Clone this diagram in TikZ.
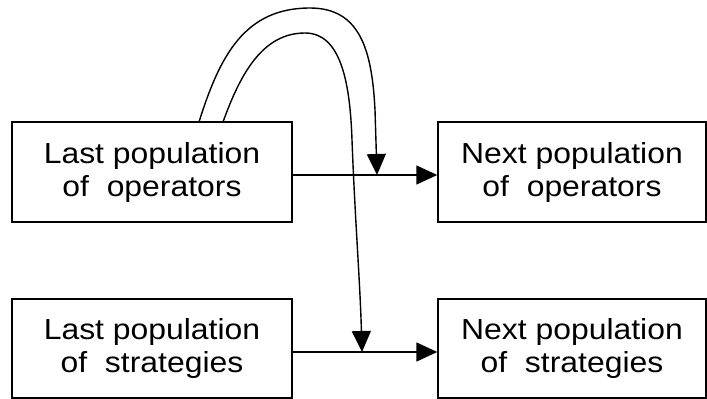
\documentclass[tikz,border=0pt]{standalone}
\usepackage{fontspec}
\setmainfont{Liberation Sans}
\newfontfamily\labfont[FakeStretch=1.1]{Liberation Sans}
\usetikzlibrary{arrows.meta}
\tikzset{
  popbox/.style={draw, line width=1.4pt, inner sep=0pt, align=center,
    font=\labfont\fontsize{29}{33}\selectfont},
  flow/.style={line width=1.4pt, -{Triangle[length=21pt,width=19pt]}},
  loopline/.style={line width=1.4pt, -{Triangle[length=21pt,width=19pt]}}
}
\begin{document}
\begin{tikzpicture}[x=1pt,y=-1pt]
\useasboundingbox (0,0) rectangle (707,399);
\node[popbox, minimum width=280pt, minimum height=100pt] (lo) at (152,172) {Last population\\of\ \ operators};
\node[popbox, minimum width=268pt, minimum height=100pt] (no) at (572,172) {Next population\\of\ \ operators};
\node[popbox, minimum width=280pt, minimum height=99pt] (ls) at (152,348.5) {Last population\\of\ \ strategies};
\node[popbox, minimum width=268pt, minimum height=99pt] (ns) at (572,348.5) {Next population\\of\ \ strategies};
\draw[flow] (lo.east |- 0,175) coordinate (a1) -- (no.west |- 0,175) coordinate (b1);
\draw[flow] (ls.east |- 0,352) coordinate (a2) -- (ns.west |- 0,352) coordinate (b2);
\coordinate (o1) at (199,122);
\coordinate (i1) at (223,122);
\coordinate (t1) at (377,175);
\coordinate (t2) at (362,352);
\draw[loopline] (o1) .. controls (220,55) and (245,8) .. (310,8)
  .. controls (360,8) and (372,50) .. (375,110) -- (t1);
\draw[loopline] (i1) .. controls (240,75) and (262,33) .. (305,33)
  .. controls (340,33) and (350,80) .. (352,140) .. controls (355,220) and (360,280) .. (t2);
\end{tikzpicture}
\end{document}
